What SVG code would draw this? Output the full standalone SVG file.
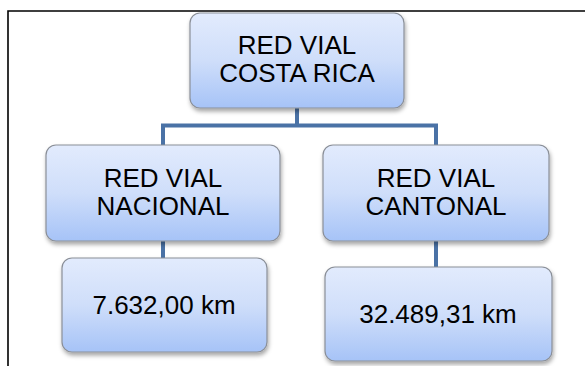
<svg xmlns="http://www.w3.org/2000/svg" width="585" height="366" viewBox="0 0 585 366">
<defs>
<linearGradient id="g" x1="0" y1="0" x2="0" y2="1">
<stop offset="0" stop-color="#e2ebfd"/>
<stop offset="0.5" stop-color="#cfdefa"/>
<stop offset="1" stop-color="#a6c3f7"/>
</linearGradient>
<filter id="sh" x="-10%" y="-10%" width="125%" height="130%">
<feDropShadow dx="1" dy="3" stdDeviation="2" flood-color="#000" flood-opacity="0.35"/>
</filter>
<style>
.box{fill:url(#g);stroke:#8a8f98;stroke-width:1.2;filter:url(#sh)}
.t{font-family:"Liberation Sans",Arial,sans-serif;font-size:26px;fill:#000;text-anchor:middle}
.c{stroke:#4a72a6;stroke-width:4;fill:none}
</style>
</defs>
<rect width="585" height="366" fill="#fff"/>
<path d="M8 366 V11 H585" fill="none" stroke="#000" stroke-width="1.6"/>
<g id="connectors">
<path class="c" d="M297 108 V125.5 M163 125.5 H436 M163 123.5 V145 M436 123.5 V145"/>
<path class="c" d="M163 241 V258 M436 241 V267"/>
</g>
<g id="root">
<rect class="box" x="190" y="13" width="214" height="95" rx="10"/>
<text class="t" x="297" y="54">RED VIAL</text>
<text class="t" x="297" y="82">COSTA RICA</text>
</g>
<g id="nacional">
<rect class="box" x="46" y="145" width="234" height="96" rx="10"/>
<text class="t" x="163" y="186.5">RED VIAL</text>
<text class="t" x="163" y="215">NACIONAL</text>
</g>
<g id="cantonal">
<rect class="box" x="323" y="145" width="226" height="96" rx="10"/>
<text class="t" x="436" y="186.5">RED VIAL</text>
<text class="t" x="436" y="215">CANTONAL</text>
</g>
<g id="km-nacional">
<rect class="box" x="62" y="258" width="205" height="94" rx="10"/>
<text class="t" x="164" y="314">7.632,00 km</text>
</g>
<g id="km-cantonal">
<rect class="box" x="325" y="267" width="227" height="94" rx="10"/>
<text class="t" x="438" y="323">32.489,31 km</text>
</g>
</svg>
